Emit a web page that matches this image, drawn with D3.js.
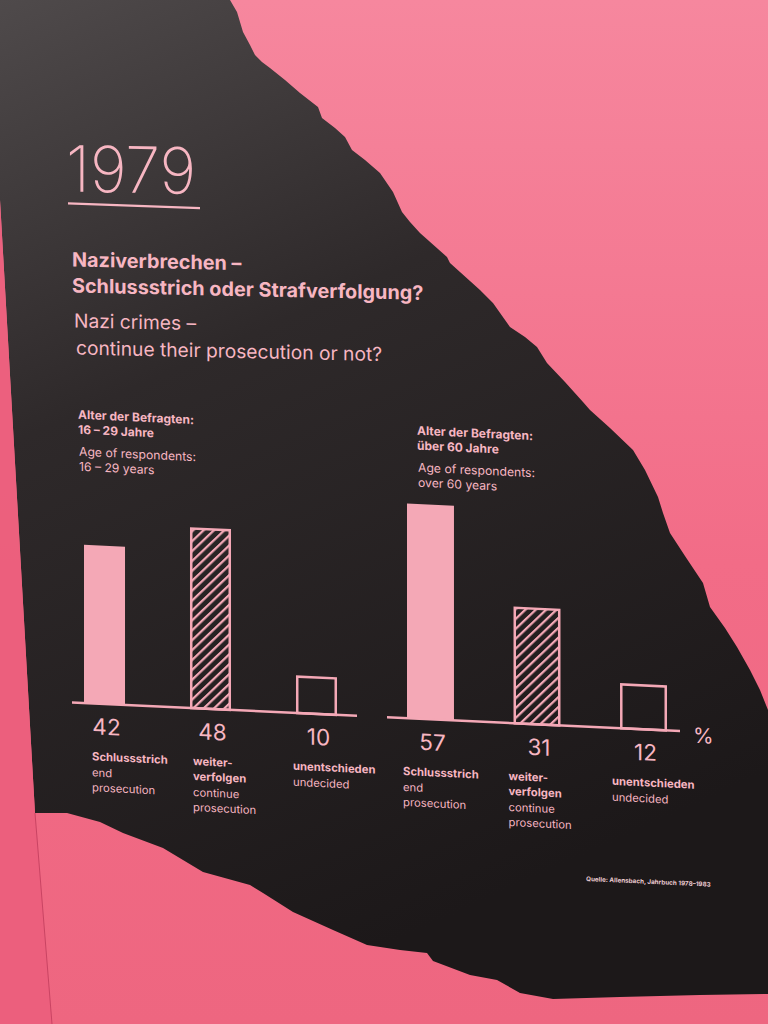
<!DOCTYPE html>
<html>
<head>
<meta charset="utf-8">
<script src="https://cdn.jsdelivr.net/npm/d3@7"></script>
<style>
  html, body { margin: 0; padding: 0; background: #f06d87; }
  svg { display: block; }
  text { font-family: Inter, "Open Sans", "DejaVu Sans", sans-serif; }
</style>
</head>
<body>
<script>
// ---------------- data ----------------
const year = "1979";
const titleDe = ["Naziverbrechen –", "Schlussstrich oder Strafverfolgung?"];
const titleEn = ["Nazi crimes –", "continue their prosecution or not?"];
const categories = ["Schlussstrich", "weiterverfolgen", "unentschieden"];
const labelsDe = [["Schlussstrich"], ["weiter-", "verfolgen"], ["unentschieden"]];
const labelsEn = [["end", "prosecution"], ["continue", "prosecution"], ["undecided"]];
const groupNames = ["16–29", "über 60"];
const headDe = [["Alter der Befragten:", "16 – 29 Jahre"], ["Alter der Befragten:", "über 60 Jahre"]];
const headEn = [["Age of respondents:", "16 – 29 years"], ["Age of respondents:", "over 60 years"]];
const values1629 = [42, 48, 10];
const valuesOver60 = [57, 31, 12];
const unit = "%";
const source = "Quelle: Allensbach, Jahrbuch 1978–1983";

// ---------------- setup ----------------
const W = 768, H = 1024;
const TXT = "#f7b6c2", BAR = "#f4a8b6";
const svg = d3.select("body").append("svg").attr("width", W).attr("height", H);
const defs = svg.append("defs");

const pinkGrad = defs.append("linearGradient").attr("id", "pinkGrad")
  .attr("x1", 0).attr("y1", 0).attr("x2", 0).attr("y2", 1);
pinkGrad.append("stop").attr("offset", 0).attr("stop-color", "#f6879e");
pinkGrad.append("stop").attr("offset", 0.55).attr("stop-color", "#f26c87");
pinkGrad.append("stop").attr("offset", 1).attr("stop-color", "#ee6680");

const darkGrad = defs.append("linearGradient").attr("id", "darkGrad")
  .attr("x1", 0).attr("y1", 0).attr("x2", 0.35).attr("y2", 1);
darkGrad.append("stop").attr("offset", 0).attr("stop-color", "#4f4a4b");
darkGrad.append("stop").attr("offset", 0.4).attr("stop-color", "#2e292a");
darkGrad.append("stop").attr("offset", 1).attr("stop-color", "#1c1819");

const hatch = defs.append("pattern").attr("id", "hatch")
  .attr("patternUnits", "userSpaceOnUse").attr("width", 7).attr("height", 7)
  .attr("patternTransform", "rotate(45)");
hatch.append("line").attr("x1", 0).attr("y1", 0).attr("x2", 0).attr("y2", 7)
  .attr("stroke", BAR).attr("stroke-width", 4.4);

// ---------------- background (wall + torn dark sheet) ----------------
svg.append("rect").attr("width", W).attr("height", H).attr("fill", "url(#pinkGrad)");

const sheet = [
  [0,0],[230,0],[237,12],[243,32],[250,45],[255,55],[262,62],[270,68],[285,80],[300,93],
  [318,107],[322,118],[335,128],[345,137],[352,150],[365,160],[380,173],[393,192],[402,212],
  [410,222],[420,233],[447,257],[450,263],[480,290],[493,303],[510,327],[525,337],[537,347],
  [547,363],[565,382],[583,402],[590,410],[610,428],[633,450],[645,470],[658,497],[663,513],
  [670,533],[685,556],[703,583],[710,607],[725,628],[737,647],[750,670],[760,690],[768,710],
  [768,994],[700,995],[620,997],[553,999],[520,993],[497,980],[470,975],[433,961],[427,953],
  [400,950],[367,945],[333,930],[293,912],[263,893],[250,885],[203,872],[163,848],[123,833],
  [100,822],[67,813],[35,813],[0,200]
];
svg.append("path").attr("d", d3.line()(sheet) + "Z").attr("fill", "url(#darkGrad)");

// left wall strip
svg.append("path").attr("d", d3.line()([[0,200],[35,813],[52,1024],[0,1024]]) + "Z")
  .attr("fill", "#eb5e7c").attr("opacity", 0.9);
svg.append("line").attr("x1", 35).attr("y1", 813).attr("x2", 52).attr("y2", 1024)
  .attr("stroke", "#c94463").attr("stroke-width", 1);

// ---------------- title ----------------
const head = svg.append("g").attr("transform", "skewY(1.2)");
head.append("text").attr("x", 66).attr("y", 190).text(year)
  .attr("fill", TXT).attr("font-size", 64).attr("font-weight", 250)
  .attr("textLength", 130).attr("lengthAdjust", "spacingAndGlyphs");
head.append("line").attr("x1", 68).attr("y1", 202).attr("x2", 200).attr("y2", 204)
  .attr("stroke", TXT).attr("stroke-width", 2.2);

head.selectAll("text.tde").data(titleDe).join("text").attr("class", "tde")
  .attr("x", 72).attr("y", (d, i) => 265 + i * 26).text(d => d)
  .attr("fill", TXT).attr("font-size", 19.8).attr("font-weight", 700);
head.selectAll("text.ten").data(titleEn).join("text").attr("class", "ten")
  .attr("x", (d, i) => i === 0 ? 74 : 76).attr("y", (d, i) => 326 + i * 27).text(d => d)
  .attr("fill", TXT).attr("font-size", 19.2).attr("font-weight", 400);

// ---------------- chart ----------------
const chart = svg.append("g").attr("transform", "skewY(2.7)");
const y = d3.scaleLinear().domain([0, 60]).range([699, 699 - 226]);
const baseY = y(0);

const groups = [
  { name: groupNames[0], values: values1629, x: d3.scaleBand().domain(categories).range([84, 337]).paddingInner(0.613),
    line: [72, 357], head: 78, labelDx: [8, 3, -3] },
  { name: groupNames[1], values: valuesOver60, x: d3.scaleBand().domain(categories).range([407, 667]).paddingInner(0.559),
    line: [387, 680], head: 417, labelDx: [-4, -5, -8] }
];

const fills = [BAR, "url(#hatch)", "none"];

groups.forEach((g, gi) => {
  const gg = chart.append("g");
  // headers
  gg.selectAll("text.hde").data(headDe[gi]).join("text").attr("class", "hde")
    .attr("x", g.head).attr("y", (d, i) => 415 + i * 15).text(d => d)
    .attr("fill", TXT).attr("font-size", 12).attr("font-weight", 700);
  gg.selectAll("text.hen").data(headEn[gi]).join("text").attr("class", "hen")
    .attr("x", g.head + 1).attr("y", (d, i) => 452 + i * 15).text(d => d)
    .attr("fill", TXT).attr("font-size", 12.2).attr("font-weight", 400);

  // bars
  const data = categories.map((c, i) => ({ c, v: g.values[i], i }));
  gg.selectAll("rect.bar").data(data).join("rect").attr("class", "bar")
    .attr("x", d => g.x(d.c) + (d.i === 0 ? 0 : 1.25))
    .attr("width", d => g.x.bandwidth() - (d.i === 0 ? 0 : 2.5))
    .attr("y", d => y(d.v) + (d.i === 0 ? 0 : 1.25))
    .attr("height", d => baseY - y(d.v) - (d.i === 0 ? 0 : 1.25))
    .attr("fill", d => fills[d.i])
    .attr("stroke", d => d.i === 0 ? "none" : BAR)
    .attr("stroke-width", 2.5);

  // baseline
  gg.append("line").attr("x1", g.line[0]).attr("x2", g.line[1])
    .attr("y1", baseY).attr("y2", baseY).attr("stroke", BAR).attr("stroke-width", 2.5);

  // values
  gg.selectAll("text.val").data(data).join("text").attr("class", "val")
    .attr("x", d => g.x(d.c) + g.x.bandwidth() / 2 + 2).attr("y", 730)
    .attr("text-anchor", "middle").text(d => d.v)
    .attr("fill", TXT).attr("font-size", 22.5).attr("font-weight", 400);

  // category labels
  data.forEach(d => {
    const x0 = g.x(d.c) + g.labelDx[d.i];
    const de = labelsDe[d.i], en = labelsEn[d.i];
    gg.selectAll(null).data(de).join("text")
      .attr("x", x0).attr("y", (t, k) => 756 + k * 15).text(t => t)
      .attr("fill", TXT).attr("font-size", 11.3).attr("font-weight", 700);
    gg.selectAll(null).data(en).join("text")
      .attr("x", x0).attr("y", (t, k) => 756 + de.length * 15 + 1 + k * 15).text(t => t)
      .attr("fill", TXT).attr("font-size", 11.3).attr("font-weight", 400);
  });
});

chart.append("text").attr("x", 693).attr("y", 710).text(unit)
  .attr("fill", TXT).attr("font-size", 21).attr("font-weight", 400);

// source
svg.append("text").attr("x", 586).attr("y", 881).text(source)
  .attr("transform", "rotate(2.6 586 881)")
  .attr("fill", "#e9c9d0").attr("font-size", 6.3).attr("font-weight", 700);
</script>
</body>
</html>
